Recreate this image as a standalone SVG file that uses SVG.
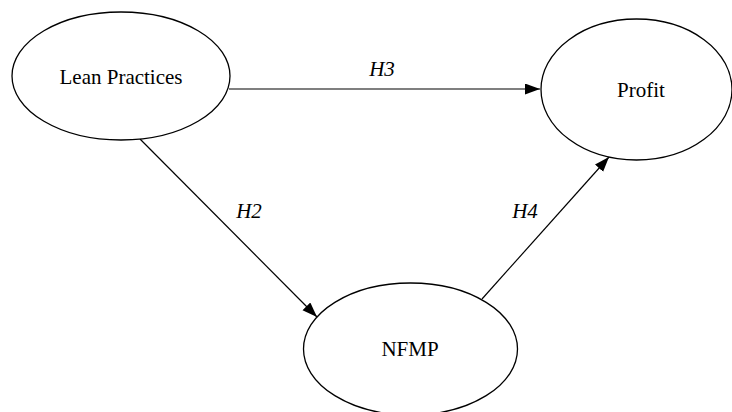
<svg xmlns="http://www.w3.org/2000/svg" width="732" height="412" viewBox="0 0 732 412">
<style>
.node{fill:#fff;stroke:#000;stroke-width:1.3}
.lbl{font-family:"Liberation Serif","Times New Roman",serif;font-size:21px;fill:#000;text-anchor:middle}
.elbl{font-family:"Liberation Serif","Times New Roman",serif;font-size:21px;font-style:italic;fill:#000;text-anchor:middle}
.edge{stroke:#000;stroke-width:1.2;fill:none}
</style>
<defs>
<marker id="arr" markerUnits="userSpaceOnUse" markerWidth="16" markerHeight="12" refX="15" refY="5.5" orient="auto">
<path d="M0,0 L15,5.5 L0,11 Z" fill="#000"/>
</marker>
</defs>
<rect width="732" height="412" fill="#fff"/>
<g id="connectors">
<line class="edge" x1="229" y1="89" x2="540" y2="89" marker-end="url(#arr)"/>
<line class="edge" x1="140" y1="139" x2="317" y2="317" marker-end="url(#arr)"/>
<line class="edge" x1="482" y1="299" x2="609" y2="157" marker-end="url(#arr)"/>
<text class="elbl" x="382" y="76">H3</text>
<text class="elbl" x="249" y="218">H2</text>
<text class="elbl" x="525" y="218">H4</text>
</g>
<g id="lean">
<ellipse class="node" cx="121" cy="76" rx="109" ry="64"/>
<text class="lbl" x="121" y="84">Lean Practices</text>
</g>
<g id="profit">
<ellipse class="node" cx="636.5" cy="89.5" rx="95.5" ry="70.5"/>
<text class="lbl" x="641" y="97">Profit</text>
</g>
<g id="nfmp">
<ellipse class="node" cx="410.5" cy="349" rx="107" ry="66"/>
<text class="lbl" x="410" y="356">NFMP</text>
</g>
</svg>
